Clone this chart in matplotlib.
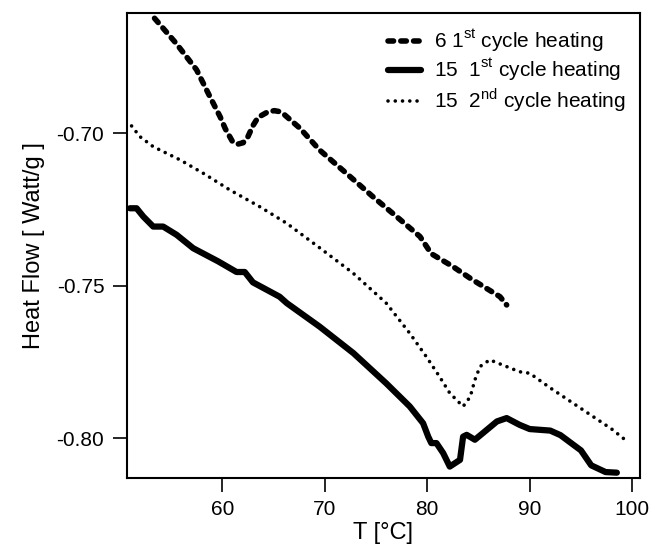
import matplotlib
matplotlib.use("Agg")
from matplotlib import pyplot as plt

plt.rcParams['font.family'] = ['Liberation Sans', 'DejaVu Sans']
plt.rcParams['mathtext.fontset'] = 'custom'
plt.rcParams['mathtext.rm'] = 'Liberation Sans'

# 6, 1st cycle heating (dashed)
t_6_1 = [53.4, 55.5, 57.5, 58.8, 59.8, 60.3, 61.0, 61.5, 62.05, 62.5, 63.0, 63.5,
         64.5, 65.1, 65.6, 66.1, 67.6, 69.5, 72.1, 74.7, 77.0, 79.3, 80.4, 82.5,
         84.3, 87.1, 87.75]
hf_6_1 = [-0.6623, -0.6705, -0.6792, -0.6880, -0.6946, -0.6985, -0.7027, -0.7036,
          -0.7031, -0.7012, -0.6975, -0.6948, -0.6929, -0.6926, -0.6929, -0.6940,
          -0.6984, -0.7055, -0.7131, -0.7208, -0.7273, -0.7339, -0.7395, -0.7437,
          -0.7478, -0.7536, -0.7563]

# 15, 1st cycle heating (solid)
t_15_1 = [51.0, 51.65, 52.3, 53.27, 54.24, 55.55, 57.17, 59.6, 61.4, 62.2, 63.0,
          65.6, 66.3, 69.5, 72.8, 76.0, 78.3, 79.6, 80.1, 80.4, 80.9, 81.56, 82.2,
          83.2, 83.5, 83.85, 84.65, 85.8, 86.8, 87.75, 89.0, 90.0, 92.0, 93.0,
          95.0, 96.0, 97.4, 98.5]
hf_15_1 = [-0.7246, -0.7246, -0.7273, -0.7306, -0.7306, -0.7333, -0.7377, -0.7420,
           -0.7455, -0.7455, -0.7489, -0.7536, -0.7557, -0.7634, -0.7721, -0.7820,
           -0.7896, -0.7951, -0.7995, -0.8016, -0.8016, -0.8049, -0.8093, -0.8071,
           -0.7995, -0.7989, -0.8005, -0.7973, -0.7945, -0.7934, -0.7956, -0.7970,
           -0.7975, -0.7990, -0.8040, -0.8089, -0.8111, -0.8113]

# 15, 2nd cycle heating (dotted)
t_15_2 = [51.16, 51.97, 53.27, 55.87, 58.14, 60.75, 63.67, 66.28, 69.6, 72.78,
          76.0, 78.3, 79.9, 81.2, 82.2, 83.5, 84.2, 84.65, 85.15, 86.1, 89.0,
          90.0, 92.0, 94.0, 96.0, 98.0, 99.3]
hf_15_2 = [-0.6976, -0.7011, -0.7044, -0.7087, -0.7131, -0.7186, -0.7241, -0.7295,
           -0.7378, -0.7459, -0.7557, -0.7656, -0.7732, -0.7798, -0.7852, -0.7896,
           -0.7864, -0.7809, -0.7765, -0.7743, -0.7782, -0.7787, -0.7835, -0.7880,
           -0.7925, -0.7970, -0.8005]

labels = ["6 1$^{\\mathrm{st}}$ cycle heating",
          "15  1$^{\\mathrm{st}}$ cycle heating",
          "15  2$^{\\mathrm{nd}}$ cycle heating"]

fig = plt.figure(figsize=(6.49, 5.56), dpi=100)
ax = fig.add_axes([0.195, 0.140, 0.791, 0.837])

ax.plot(t_6_1, hf_6_1, color='black', lw=4, dashes=(1.0, 1.3),
        dash_capstyle='round', dash_joinstyle='round', label=labels[0])
ax.plot(t_15_1, hf_15_1, color='black', lw=4.5, solid_joinstyle='round',
        solid_capstyle='round', label=labels[1])
ax.plot(t_15_2, hf_15_2, color='black', lw=2.6, dashes=(0.01, 2.0),
        dash_capstyle='round', label=labels[2])

ax.set_xlim(50.67, 100.75)
ax.set_ylim(-0.8131, -0.6605)
ax.set_xticks([60, 70, 80, 90, 100])
ax.set_yticks([-0.80, -0.75, -0.70])
ax.set_yticklabels(["-0.80", "-0.75", "-0.70"])
ax.tick_params(direction='out', length=10, width=1.2, labelsize=15, pad=6)
for s in ax.spines.values():
    s.set_linewidth(1.5)

ax.set_xlabel("T [°C]", fontsize=17, labelpad=2)
ax.set_ylabel("Heat Flow [ Watt/g ]", fontsize=17, labelpad=8)

ax.legend(loc='upper left', bbox_to_anchor=(0.5686, 0.9838),
          bbox_transform=fig.transFigure, frameon=False, fontsize=15,
          handlelength=1.6, labelspacing=0.15, handletextpad=0.6)

fig.savefig("out.png", dpi=100)
